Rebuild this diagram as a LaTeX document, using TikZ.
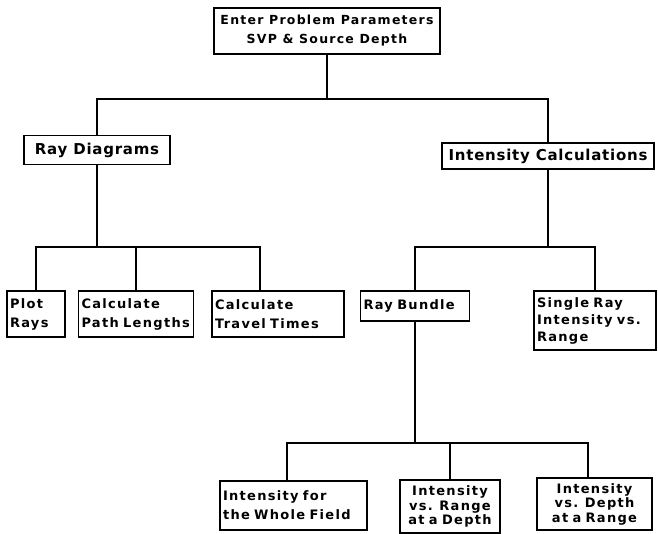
\documentclass[tikz,border=0pt]{standalone}
\usepackage{fontspec}
\setmainfont{DejaVu Sans}
\newfontfamily\boxfont[LetterSpace=10]{DejaVu Sans}
\newfontfamily\headfont[LetterSpace=5]{DejaVu Sans}
\usepackage{tikz}

\begin{document}
\begin{tikzpicture}[x=1pt,y=-1pt,
    wire/.style={line width=1.6pt},
    blk/.style={draw,line width=1.4pt,fill=white,inner xsep=3pt,inner ysep=0pt,
        font=\boxfont\bfseries\fontsize{13}{19}\selectfont},
    tight/.style={font=\boxfont\bfseries\fontsize{13}{14.5}\selectfont},
    head/.style={blk,font=\headfont\bfseries\fontsize{15}{18}\selectfont}]
\useasboundingbox (0,0) rectangle (658,533);
% top level
\node[blk,minimum width=226pt,minimum height=46pt,align=center,
    font=\boxfont\bfseries\fontsize{12.5}{19}\selectfont] (top) at (327,31)
    {Enter Problem Parameters\\SVP \& Source Depth};
\node[head,minimum width=146pt,minimum height=29pt] (rayd) at (97,150) {Ray Diagrams};
\node[head,minimum width=212pt,minimum height=26pt] (intc) at (548,156) {Intensity Calculations};
% second level
\node[blk,text width=52pt,minimum height=46pt,align=left] (plot) at (36,314) {Plot\\Rays};
\node[blk,text width=109pt,minimum height=46pt,align=left] (path) at (136,314) {Calculate\\Path Lengths};
\node[blk,text width=126pt,minimum height=46pt,align=left] (travel) at (278,314) {Calculate\\Travel Times};
\node[blk,text width=103pt,minimum height=30pt,align=left] (bundle) at (415,306) {Ray Bundle};
\node[blk,text width=116pt,minimum height=59pt,align=left,
    font=\boxfont\bfseries\fontsize{13}{17}\selectfont] (single) at (595,320.5) {Single Ray\\Intensity vs.\\Range};
% third level
\node[blk,text width=141pt,minimum height=49pt,align=left] (whole) at (293.5,505.5) {Intensity for\\the Whole Field};
\node[blk,tight,text width=94pt,minimum height=53pt,align=center] (rng) at (450,506.5) {Intensity\\vs. Range\\at a Depth};
\node[blk,tight,text width=109pt,minimum height=52pt,align=center] (dep) at (594.5,504) {Intensity\\vs. Depth\\at a Range};
% connectors
\coordinate (b1) at (327,99);
\coordinate (b2) at (260,247);
\coordinate (b3l) at (287,443);
\coordinate (b3r) at (588,443);
\draw[wire] (top) -- (b1);
\draw[wire] (rayd.north) |- (b1) -| (intc.north);
\draw[wire] (rayd.south) -- (rayd.south |- b2);
\draw[wire] (plot.north) |- (b2) -- (b2 |- travel.north);
\draw[wire] (path.north) -- (path.north |- b2);
\draw[wire] (intc.south) -- (intc.south |- b2);
\draw[wire] (bundle.north) |- (single.north |- b2) -- (single.north);
\draw[wire] (bundle.south) -- (bundle.south |- b3l);
\draw[wire] (b3l |- whole.north) -- (b3l) -- (b3r) -- (b3r |- dep.north);
\draw[wire] (rng.north) -- (rng.north |- b3l);
\end{tikzpicture}
\end{document}
